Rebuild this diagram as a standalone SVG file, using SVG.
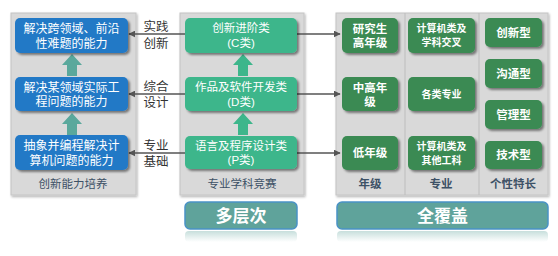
<svg xmlns="http://www.w3.org/2000/svg" width="558" height="256" viewBox="0 0 558 256">
<defs>
<filter id="sh" x="-10%" y="-10%" width="130%" height="140%">
<feDropShadow dx="2" dy="2" stdDeviation="1.2" flood-color="#000" flood-opacity="0.45"/>
</filter>
<filter id="psh" x="-5%" y="-5%" width="110%" height="110%">
<feDropShadow dx="1" dy="1.5" stdDeviation="1" flood-color="#000" flood-opacity="0.3"/>
</filter>
<marker id="ah" viewBox="0 0 10 10" refX="9" refY="5" markerWidth="7" markerHeight="7" orient="auto-start-reverse" markerUnits="userSpaceOnUse">
<path d="M0,0 L10,5 L0,10 z" fill="#555"/>
</marker>
<linearGradient id="refl" x1="0" y1="0" x2="0" y2="1">
<stop offset="0" stop-color="#5fa39b" stop-opacity="0.35"/>
<stop offset="1" stop-color="#5fa39b" stop-opacity="0"/>
</linearGradient>
</defs>
<style>
.panel{fill:#d9d9d9;stroke:#c4c4c4;stroke-width:1}
.blue{fill:#2479c6}
.mid{fill:#3db68b}
.dk{fill:#3a8a52}
.t{font-family:"Liberation Sans","Noto Sans CJK SC",sans-serif;fill:#fff;text-anchor:middle}
.tb{font-weight:bold}
.pl{font-family:"Liberation Sans","Noto Sans CJK SC",sans-serif;fill:#3d5166;font-size:11.5px;text-anchor:middle}
.lab{font-family:"Liberation Sans","Noto Sans CJK SC",sans-serif;fill:#333;font-size:12.5px;text-anchor:middle}
.conn{stroke:#555;stroke-width:1.3;fill:none}
.big{fill:#5fa39b;stroke:#4a92c6;stroke-width:1.5}
</style>
<rect width="558" height="256" fill="#fff"/>
<g id="panels">
<rect class="panel" x="11" y="13" width="125" height="182" filter="url(#psh)"/>
<rect class="panel" x="180" y="13" width="124" height="182" filter="url(#psh)"/>
<rect class="panel" x="336" y="13" width="212" height="182" filter="url(#psh)"/>
<line x1="405" y1="13" x2="405" y2="195" stroke="#bdbdbd" stroke-width="1"/>
<line x1="479" y1="13" x2="479" y2="195" stroke="#bdbdbd" stroke-width="1"/>
<text class="pl" x="73" y="188">创新能力培养</text>
<text class="pl" x="242" y="188">专业学科竞赛</text>
<text class="pl tb" x="370" y="188">年级</text>
<text class="pl tb" x="441" y="188">专业</text>
<text class="pl tb" x="513" y="188">个性特长</text>
</g>
<g id="up-arrows">
<path d="M67,76 V65 H62 L72,54 L82,65 H77 V76 Z" fill="#5aa89c"/>
<path d="M67,135 V124 H62 L72,113 L82,124 H77 V135 Z" fill="#5aa89c"/>
<path d="M238,76 V65 H233 L243,54 L253,65 H248 V76 Z" fill="#3db68b"/>
<path d="M238,135 V124 H233 L243,113 L253,124 H248 V135 Z" fill="#3db68b"/>
</g>
<g id="connectors">
<line class="conn" x1="185" y1="34" x2="129" y2="34" marker-end="url(#ah)"/>
<line class="conn" x1="185" y1="94" x2="129" y2="94" marker-end="url(#ah)"/>
<line class="conn" x1="185" y1="153" x2="129" y2="153" marker-end="url(#ah)"/>
<line class="conn" x1="297" y1="34" x2="340" y2="34" marker-end="url(#ah)"/>
<line class="conn" x1="297" y1="94" x2="340" y2="94" marker-end="url(#ah)"/>
<line class="conn" x1="297" y1="153" x2="340" y2="153" marker-end="url(#ah)"/>
<text class="lab" x="156" y="31">实践</text>
<text class="lab" x="156" y="48">创新</text>
<text class="lab" x="156" y="91">综合</text>
<text class="lab" x="156" y="107">设计</text>
<text class="lab" x="156" y="150">专业</text>
<text class="lab" x="156" y="166">基础</text>
</g>
<g id="b1"><rect class="blue" x="15" y="18" width="113" height="35" rx="5" filter="url(#sh)"/>
<text class="t" font-size="12" x="71.5" y="33">解决跨领域、前沿</text><text class="t" font-size="12" x="71.5" y="47.5">性难题的能力</text></g>
<g id="b2"><rect class="blue" x="15" y="77" width="113" height="34" rx="5" filter="url(#sh)"/>
<text class="t" font-size="12" x="71.5" y="91.5">解决某领域实际工</text><text class="t" font-size="12" x="71.5" y="106">程问题的能力</text></g>
<g id="b3"><rect class="blue" x="15" y="135" width="113" height="35" rx="5" filter="url(#sh)"/>
<text class="t" font-size="12" x="71.5" y="150">抽象并编程解决计</text><text class="t" font-size="12" x="71.5" y="164.5">算机问题的能力</text></g>
<g id="m1"><rect class="mid" x="185" y="18" width="112" height="35" rx="5" filter="url(#sh)"/>
<text class="t" font-size="11.5" x="241" y="32">创新进阶类</text><text class="t" font-size="11.5" x="241" y="46.5">(C类)</text></g>
<g id="m2"><rect class="mid" x="185" y="77" width="112" height="34" rx="5" filter="url(#sh)"/>
<text class="t" font-size="11.5" x="241" y="91">作品及软件开发类</text><text class="t" font-size="11.5" x="241" y="105.5">(D类)</text></g>
<g id="m3"><rect class="mid" x="185" y="136" width="112" height="33" rx="5" filter="url(#sh)"/>
<text class="t" font-size="11.5" x="241" y="149.5">语言及程序设计类</text><text class="t" font-size="11.5" x="241" y="164">(P类)</text></g>
<g id="g1"><rect class="dk" x="342" y="18" width="56" height="35" rx="5" filter="url(#sh)"/>
<text class="t tb" font-size="11.5" x="370" y="32.5">研究生</text><text class="t tb" font-size="11.5" x="370" y="47">高年级</text></g>
<g id="g2"><rect class="dk" x="342" y="77" width="56" height="34" rx="5" filter="url(#sh)"/>
<text class="t tb" font-size="11.5" x="370" y="91.5">中高年</text><text class="t tb" font-size="11.5" x="370" y="106">级</text></g>
<g id="g3"><rect class="dk" x="342" y="136" width="56" height="34" rx="5" filter="url(#sh)"/>
<text class="t tb" font-size="11.5" x="370" y="157">低年级</text></g>
<g id="s1"><rect class="dk" x="408" y="18" width="67" height="35" rx="5" filter="url(#sh)"/>
<text class="t tb" font-size="10" x="441.5" y="32">计算机类及</text><text class="t tb" font-size="10" x="441.5" y="45.5">学科交叉</text></g>
<g id="s2"><rect class="dk" x="408" y="77" width="67" height="34" rx="5" filter="url(#sh)"/>
<text class="t tb" font-size="10" x="441.5" y="98">各类专业</text></g>
<g id="s3"><rect class="dk" x="408" y="136" width="67" height="34" rx="5" filter="url(#sh)"/>
<text class="t tb" font-size="10" x="441.5" y="150">计算机类及</text><text class="t tb" font-size="10" x="441.5" y="163.5">其他工科</text></g>
<g id="p1"><rect class="dk" x="485" y="18" width="57" height="29" rx="5" filter="url(#sh)"/>
<text class="t tb" font-size="11.5" x="513.5" y="36.5">创新型</text></g>
<g id="p2"><rect class="dk" x="485" y="59" width="57" height="29" rx="5" filter="url(#sh)"/>
<text class="t tb" font-size="11.5" x="513.5" y="77.5">沟通型</text></g>
<g id="p3"><rect class="dk" x="485" y="100" width="57" height="29" rx="5" filter="url(#sh)"/>
<text class="t tb" font-size="11.5" x="513.5" y="118.5">管理型</text></g>
<g id="p4"><rect class="dk" x="485" y="141" width="57" height="28" rx="5" filter="url(#sh)"/>
<text class="t tb" font-size="11.5" x="513.5" y="159">技术型</text></g>
<g id="bottom1">
<rect x="185" y="231" width="112" height="11" rx="4" fill="url(#refl)"/>
<rect class="big" x="185" y="202" width="112" height="27" rx="5"/>
<text class="t tb" font-size="17" x="241" y="222">多层次</text></g>
<g id="bottom2">
<rect x="337" y="231" width="211" height="11" rx="4" fill="url(#refl)"/>
<rect class="big" x="337" y="202" width="211" height="27" rx="5"/>
<text class="t tb" font-size="17" x="442.5" y="222">全覆盖</text></g>
</svg>
